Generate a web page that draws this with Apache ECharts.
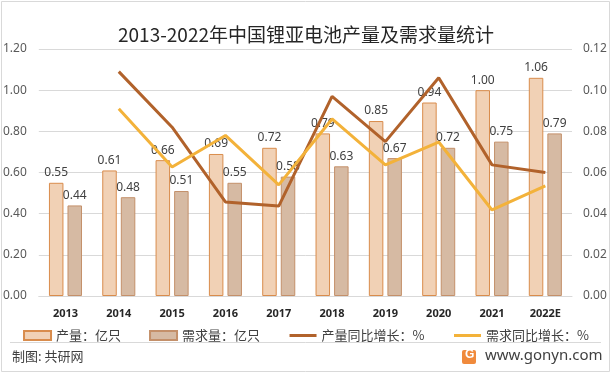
<!DOCTYPE html>
<html>
<head>
<meta charset="utf-8">
<script src="https://cdn.jsdelivr.net/npm/echarts@6/dist/echarts.min.js"></script>
<style>
html,body{margin:0;padding:0;background:#fff;}
#chart{width:612px;height:374px;}
</style>
</head>
<body>
<div id="chart"></div>
<script>
var categories = ['2013','2014','2015','2016','2017','2018','2019','2020','2021','2022E'];
var production = [0.55,0.61,0.66,0.69,0.72,0.79,0.85,0.94,1.00,1.06];
var demand = [0.44,0.48,0.51,0.55,0.58,0.63,0.67,0.72,0.75,0.79];
var productionGrowth = [null,0.109,0.082,0.0457,0.0437,0.097,0.075,0.106,0.0637,0.060];
var demandGrowth = [null,0.091,0.0627,0.078,0.054,0.086,0.0637,0.0748,0.0418,0.0535];
var leftTicks = {min:0, max:1.2, interval:0.2};
var rightTicks = {min:0, max:0.12, interval:0.02};

var chart = echarts.init(document.getElementById('chart'), null, {renderer:'canvas'});
var numFont = '"Noto Sans", "Liberation Sans", sans-serif';
var cjkFont = '"Noto Sans CJK SC", sans-serif';
var labelStyle = {show:true, position:'top', distance:4, color:'#404040', fontSize:12, fontFamily:numFont,
  formatter:function(p){return p.value.toFixed(2);}};

chart.setOption({
  animation:false,
  backgroundColor:'#ffffff',
  title:{text:'2013-2022年中国锂亚电池产量及需求量统计', left:'center', top:20,
    textStyle:{fontFamily:cjkFont, fontSize:19, fontWeight:'normal', color:'#262626'}},
  grid:{left:37, right:40, top:49, bottom:78, containLabel:false},
  legend:{top:324, left:'center', itemGap:28, itemWidth:27, itemHeight:9,
    textStyle:{fontFamily:cjkFont, fontSize:13, color:'#404040'},
    data:[{name:'产量：亿只', icon:'rect'},{name:'需求量：亿只', icon:'rect'},
      {name:'产量同比增长：%', itemStyle:{opacity:0}, lineStyle:{width:3}},
      {name:'需求同比增长：%', itemStyle:{opacity:0}, lineStyle:{width:3}}]},
  xAxis:{type:'category', data:categories,
    axisLine:{lineStyle:{color:'#d9d9d9'}}, axisTick:{show:false},
    axisLabel:{color:'#262626', fontSize:11, fontWeight:'bold', fontFamily:numFont, margin:12}},
  yAxis:[
    {type:'value', min:leftTicks.min, max:leftTicks.max, interval:leftTicks.interval,
     axisLabel:{color:'#595959', fontSize:12, fontFamily:numFont, margin:12, formatter:function(v){return v.toFixed(2);}},
     splitLine:{lineStyle:{color:'#d9d9d9'}}, axisLine:{show:false}, axisTick:{show:false}},
    {type:'value', min:rightTicks.min, max:rightTicks.max, interval:rightTicks.interval,
     axisLabel:{color:'#595959', fontSize:12, fontFamily:numFont, margin:11, formatter:function(v){return v.toFixed(2);}},
     splitLine:{show:false}, axisLine:{show:false}, axisTick:{show:false}}
  ],
  series:[
    {name:'产量：亿只', type:'bar', data:production, barWidth:14.5, barGap:'28%',
     itemStyle:{color:'#F1D1B5', borderColor:'#D98C4C', borderWidth:1}, label:labelStyle},
    {name:'需求量：亿只', type:'bar', data:demand, barWidth:14.5, barGap:'28%',
     itemStyle:{color:'#D6BAA3', borderColor:'#C4906A', borderWidth:1}, label:labelStyle},
    {name:'产量同比增长：%', type:'line', yAxisIndex:1, data:productionGrowth, symbol:'none', showSymbol:false,
     lineStyle:{color:'#B1622B', width:3}, itemStyle:{color:'#B1622B'}, z:5},
    {name:'需求同比增长：%', type:'line', yAxisIndex:1, data:demandGrowth, symbol:'none', showSymbol:false,
     lineStyle:{color:'#F3B23A', width:3}, itemStyle:{color:'#F3B23A'}, z:5}
  ],
  graphic:[
    {type:'rect', shape:{x:1.5, y:1.5, width:608, height:370}, style:{fill:null, stroke:'#d9d9d9', lineWidth:1}, silent:true},
    {type:'line', shape:{x1:10, y1:342.5, x2:601, y2:342.5}, style:{stroke:'#d9d9d9', lineWidth:1}, silent:true},
    {type:'text', left:12, top:350, style:{text:'制图: 共研网', font:'13px "Noto Sans CJK SC", sans-serif', fill:'#404040'}},
    {type:'rect', shape:{x:462, y:350, width:14, height:14, r:2}, style:{fill:'#F08A3C'}, silent:true},
    {type:'text', left:465, top:349, style:{text:'G', font:'bold 12px "Liberation Sans", sans-serif', fill:'#ffffff'}},
    {type:'text', left:485, top:348, style:{text:'www.gonyn.com', font:'15px "Noto Sans", sans-serif', fill:'#404040'}}
  ]
});
</script>
</body>
</html>
